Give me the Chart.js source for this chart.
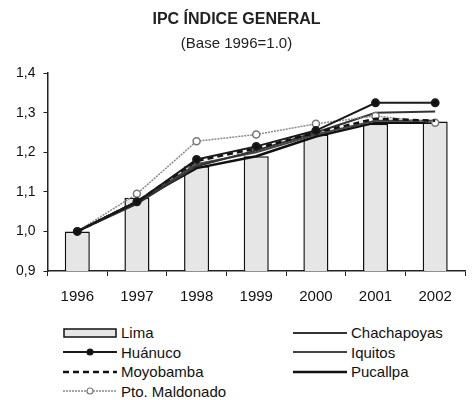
<!DOCTYPE html>
<html>
<head>
<meta charset="utf-8">
<script src="https://cdn.jsdelivr.net/npm/chart.js@4.4.1/dist/chart.umd.min.js"></script>
<style>
    html, body { margin: 0; padding: 0; background: #fff; }
    #wrap { position: relative; width: 473px; height: 400px; font-family: "Liberation Sans", Arial, sans-serif; }
    #box { position: absolute; left: 0; top: 0; width: 473px; height: 318px; }
    #legend { position: absolute; left: 0; top: 323px; width: 473px; height: 77px; }
    .item { position: absolute; display: flex; align-items: center; font-size: 15px; color: #111; height: 19px; }
    .item svg { margin-right: 4px; }
</style>
</head>
<body>
<div id="wrap">
    <div id="box"><canvas id="ipcChart"></canvas></div>
    <div id="legend"></div>
</div>
<script>
const years = ['1996', '1997', '1998', '1999', '2000', '2001', '2002'];
const lima = [1.0, 1.085, 1.165, 1.19, 1.245, 1.272, 1.278];
const huanuco = [1.0, 1.075, 1.182, 1.215, 1.255, 1.325, 1.325];
const moyobamba = [1.0, 1.075, 1.178, 1.21, 1.25, 1.285, 1.28];
const ptoMaldonado = [1.0, 1.095, 1.228, 1.245, 1.272, 1.292, 1.275];
const chachapoyas = [1.0, 1.07, 1.165, 1.205, 1.25, 1.30, 1.303];
const iquitos = [1.0, 1.075, 1.17, 1.2, 1.245, 1.28, 1.28];
const pucallpa = [1.0, 1.075, 1.16, 1.19, 1.24, 1.275, 1.275];

let ipcChart;

function lineSet(label, values, color, extra) {
    return Object.assign({
        type: 'line',
        label: label,
        data: values,
        borderColor: color,
        backgroundColor: color,
        borderWidth: 2,
        pointRadius: 0,
        tension: 0,
        fill: false
    }, extra || {});
}

function IpcChart() {
    const ctx = document.getElementById('ipcChart').getContext('2d');

    const data = {
        labels: years,
        datasets: [
            {
                label: 'Lima',
                type: 'bar',
                data: lima,
                backgroundColor: '#e6e6e6',
                borderColor: '#111',
                borderWidth: 1.5,
                barPercentage: 0.42,
                categoryPercentage: 1,
                order: 10
            },
            lineSet('Huánuco', huanuco, '#1a1a1a', { pointRadius: 3.5, pointBackgroundColor: '#111' }),
            lineSet('Moyobamba', moyobamba, '#111', { borderDash: [6, 4], borderWidth: 2.5 }),
            lineSet('Pto. Maldonado', ptoMaldonado, '#8a8a8a', { borderWidth: 1.5, pointRadius: 3.5, pointBackgroundColor: '#fff', pointBorderColor: '#777', borderDash: [2, 1] }),
            lineSet('Chachapoyas', chachapoyas, '#333'),
            lineSet('Iquitos', iquitos, '#444'),
            lineSet('Pucallpa', pucallpa, '#111', { borderWidth: 2.5 })
        ]
    };

    const options = {
        responsive: true,
        maintainAspectRatio: false,
        animation: false,
        layout: { padding: { left: 8, right: 8, top: 6, bottom: 0 } },
        plugins: {
            legend: { display: false },
            tooltip: { enabled: false },
            title: {
                display: true,
                text: 'IPC ÍNDICE GENERAL',
                color: '#222',
                font: { family: '"Liberation Sans", Arial, sans-serif', size: 16, weight: 'bold' },
                padding: { top: 4, bottom: 4 }
            },
            subtitle: {
                display: true,
                text: '(Base 1996=1.0)',
                color: '#222',
                font: { family: '"Liberation Sans", Arial, sans-serif', size: 15 },
                padding: { top: 2, bottom: 20 }
            }
        },
        scales: {
            x: {
                offset: true,
                grid: { display: true, drawOnChartArea: false, offset: true, tickLength: 5, color: '#222' },
                border: { color: '#222', width: 1.5 },
                ticks: { color: '#111', font: { family: '"Liberation Sans", Arial, sans-serif', size: 15 }, padding: 12 }
            },
            y: {
                min: 0.9,
                max: 1.4,
                grid: { display: true, drawOnChartArea: false, tickLength: 4, color: '#222' },
                border: { color: '#222', width: 1.5 },
                ticks: {
                    stepSize: 0.1,
                    color: '#111',
                    font: { family: '"Liberation Sans", Arial, sans-serif', size: 14 },
                    padding: 8,
                    callback: function (v) { return v.toFixed(1).replace('.', ','); }
                }
            }
        }
    };

    ipcChart = new Chart(ctx, { type: 'bar', data: data, options: options });
}

function swatch(ds) {
    const w = 54, h = 12;
    if (ds.type === 'bar') {
        return '<svg width="' + w + '" height="' + h + '"><rect x="1" y="2" width="' + (w - 2) + '" height="8" fill="' + ds.backgroundColor + '" stroke="' + ds.borderColor + '" stroke-width="1.5"/></svg>';
    }
    let s = '<svg width="' + w + '" height="' + h + '"><line x1="0" y1="6" x2="' + w + '" y2="6" stroke="' + ds.borderColor + '" stroke-width="' + ds.borderWidth + '"';
    if (ds.borderDash) s += ' stroke-dasharray="' + ds.borderDash.join(',') + '"';
    s += '/>';
    if (ds.pointRadius) {
        s += '<circle cx="' + (w / 2) + '" cy="6" r="3" fill="' + (ds.pointBackgroundColor || ds.borderColor) + '" stroke="' + (ds.pointBorderColor || ds.borderColor) + '" stroke-width="1.2"/>';
    }
    return s + '</svg>';
}

function RenderLegend() {
    const el = document.getElementById('legend');
    const sets = ipcChart.data.datasets;
    let html = '';
    sets.forEach(function (ds, i) {
        const col = i < 4 ? 0 : 1;
        const row = i < 4 ? i : i - 4;
        const left = col === 0 ? 63 : 293;
        const top = row * 19.5;
        html += '<div class="item" style="left:' + left + 'px;top:' + top + 'px">' + swatch(ds) + '<span>' + ds.label + '</span></div>';
    });
    el.innerHTML = html;
}

IpcChart();
RenderLegend();
</script>
</body>
</html>
